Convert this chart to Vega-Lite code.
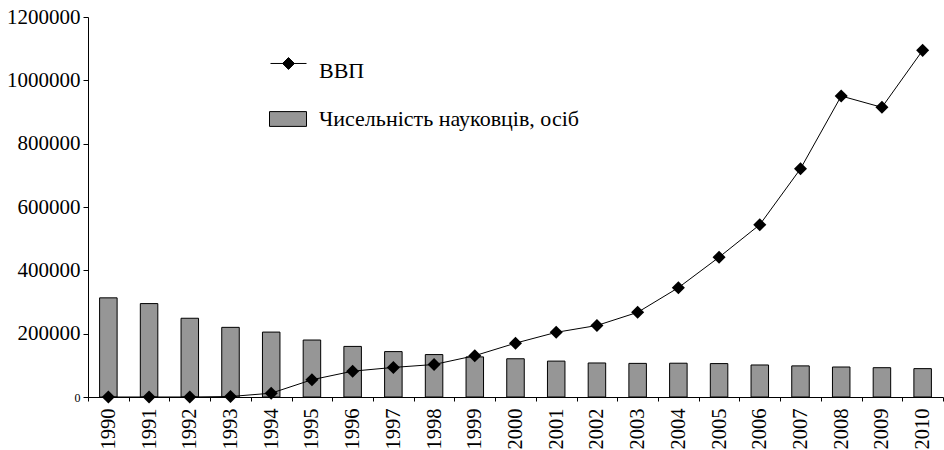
{
  "$schema": "https://vega.github.io/schema/vega-lite/v6.json",
  "width": 855,
  "height": 380,
  "autosize": {"type": "none"},
  "padding": {"left": 88, "top": 17, "right": 1, "bottom": 53},
  "background": "white",
  "config": {
    "font": "Liberation Serif",
    "view": {"stroke": null},
    "axis": {"grid": false, "domainColor": "black", "tickColor": "black", "labelColor": "black", "labelFont": "Liberation Serif", "domainWidth": 1, "tickWidth": 1}
  },
  "data": {
    "values": [
      {"year": "1990", "scientists": 313079, "gdp": 1},
      {"year": "1991", "scientists": 295010, "gdp": 3},
      {"year": "1992", "scientists": 248639, "gdp": 50},
      {"year": "1993", "scientists": 219930, "gdp": 1483},
      {"year": "1994", "scientists": 205007, "gdp": 12038},
      {"year": "1995", "scientists": 179939, "gdp": 54516},
      {"year": "1996", "scientists": 159746, "gdp": 81519},
      {"year": "1997", "scientists": 143370, "gdp": 93365},
      {"year": "1998", "scientists": 134005, "gdp": 102593},
      {"year": "1999", "scientists": 126638, "gdp": 130442},
      {"year": "2000", "scientists": 120773, "gdp": 170070},
      {"year": "2001", "scientists": 113341, "gdp": 204190},
      {"year": "2002", "scientists": 107447, "gdp": 225810},
      {"year": "2003", "scientists": 106177, "gdp": 267344},
      {"year": "2004", "scientists": 106714, "gdp": 345113},
      {"year": "2005", "scientists": 105512, "gdp": 441452},
      {"year": "2006", "scientists": 101116, "gdp": 544153},
      {"year": "2007", "scientists": 98256, "gdp": 720731},
      {"year": "2008", "scientists": 94694, "gdp": 950503},
      {"year": "2009", "scientists": 92518, "gdp": 914720},
      {"year": "2010", "scientists": 89564, "gdp": 1094607}
    ]
  },
  "encoding": {
    "x": {
      "field": "year",
      "type": "ordinal",
      "title": null,
      "scale": {"paddingInner": 0, "paddingOuter": 0},
      "axis": {"labelAngle": 270, "tickBand": "extent", "tickSize": 4, "labelPadding": 7, "labelFontSize": 20.5}
    }
  },
  "layer": [
    {
      "mark": {"type": "bar", "width": {"band": 0.43}, "stroke": "black", "strokeWidth": 1},
      "encoding": {
        "y": {
          "field": "scientists",
          "type": "quantitative",
          "title": null,
          "scale": {"domain": [0, 1200000], "nice": false},
          "axis": {
            "values": [0, 200000, 400000, 600000, 800000, 1000000, 1200000],
            "format": "d",
            "tickSize": 5,
            "labelPadding": 3,
            "labelFontSize": {"condition": {"test": "datum.value === 0", "value": 12}, "value": 21}
          }
        },
        "fill": {
          "datum": "Чисельність науковців, осіб",
          "scale": {"range": ["#969696"]},
          "legend": {
            "orient": "none",
            "legendX": 181,
            "legendY": 83,
            "title": null,
            "padding": 0,
            "symbolType": "M-1,-0.4H1V0.4H-1Z",
            "symbolSize": 1369,
            "symbolStrokeColor": "black",
            "symbolStrokeWidth": 1,
            "symbolOpacity": 1,
            "labelFontSize": 22,
            "labelFont": "Liberation Serif",
            "labelColor": "black",
            "labelOffset": 12,
            "labelLimit": 500
          }
        }
      }
    },
    {
      "mark": {"type": "line", "strokeWidth": 1},
      "encoding": {
        "y": {"field": "gdp", "type": "quantitative", "title": null},
        "stroke": {
          "datum": "ВВП",
          "scale": {"range": ["black"]},
          "legend": {
            "orient": "none",
            "legendX": 182,
            "legendY": 35,
            "title": null,
            "padding": 0,
            "symbolType": "M-1,-0.39H1M0,-0.72L0.33,-0.39L0,-0.06L-0.33,-0.39Z",
            "symbolSize": 1296,
            "symbolFillColor": "black",
            "symbolStrokeColor": "black",
            "symbolStrokeWidth": 1,
            "symbolOpacity": 1,
            "labelFontSize": 22,
            "labelFont": "Liberation Serif",
            "labelColor": "black",
            "labelOffset": 12,
            "labelLimit": 500
          }
        }
      }
    },
    {
      "mark": {"type": "point", "shape": "diamond", "filled": true, "size": 170, "color": "black", "opacity": 1},
      "encoding": {
        "y": {"field": "gdp", "type": "quantitative", "title": null}
      }
    }
  ]
}
